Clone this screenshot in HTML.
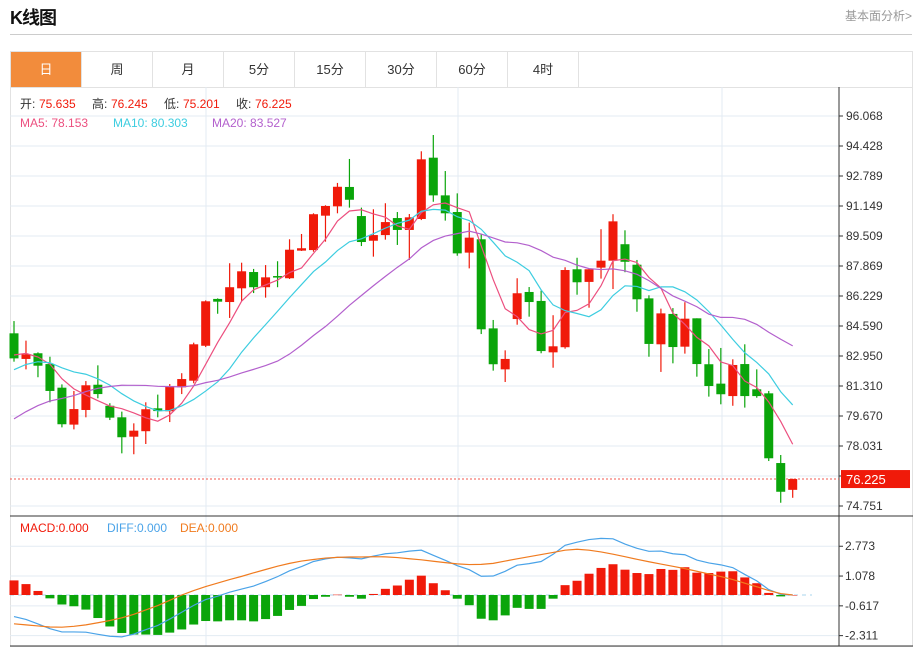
<!DOCTYPE html>
<html><head><meta charset="utf-8">
<style>
body{margin:0;background:#fff;font-family:"Liberation Sans","Noto Sans CJK SC",sans-serif;}
#wrap{position:relative;width:918px;height:647px;overflow:hidden;}
.title{position:absolute;left:10px;top:4px;font-size:18px;font-weight:bold;color:#111;letter-spacing:-1px}
.more{position:absolute;right:6px;top:7px;font-size:12px;color:#999}
.hline{position:absolute;left:10px;top:34px;width:902px;height:1px;background:#ccc}
.tabs{position:absolute;left:10px;top:51px;width:901px;height:35px;border:1px solid #e2e2e2;display:flex}
.tab{width:70px;border-right:1px solid #e2e2e2;font-size:13px;color:#333;text-align:center;line-height:35px}
.tab.on{background:#f28c3c;color:#fff}
svg{position:absolute;left:0;top:0}
</style></head><body>
<div id="wrap">
<div class="title">K线图</div>
<div class="more">基本面分析&gt;</div>
<div class="hline"></div>
<div class="tabs">
<div class="tab on">日</div>
<div class="tab">周</div>
<div class="tab">月</div>
<div class="tab">5分</div>
<div class="tab">15分</div>
<div class="tab">30分</div>
<div class="tab">60分</div>
<div class="tab">4时</div>
</div>
<svg id="chart" width="918" height="647"></svg>
</div>
<script>
const priorCloses=[75.2,75.8,76.0,76.4,76.9,77.0,77.3,77.6,77.2,78.9,80.2,80.9,81.6,82.0,82.3,82.6,83.4,83.0,83.2];
const opens=[84.19,82.79,83.10,82.51,81.22,79.20,80.00,81.38,80.23,79.60,78.54,78.84,80.09,79.93,81.24,81.60,83.51,86.07,85.90,86.65,87.54,86.71,87.32,87.20,88.71,88.74,90.62,91.13,92.19,90.60,89.25,89.56,90.49,89.84,90.44,93.79,91.73,90.82,88.60,89.33,84.46,82.22,84.97,86.45,85.96,83.15,83.43,87.69,87.00,87.78,88.16,89.06,87.94,86.10,83.59,85.25,83.46,85.01,82.50,81.44,80.76,82.51,81.13,80.91,77.10,75.635];
const closes=[82.82,83.04,82.42,81.04,79.22,80.05,81.35,80.87,79.58,78.51,78.87,80.04,79.94,81.31,81.69,83.59,85.94,85.92,86.71,87.58,86.71,87.25,87.25,88.76,88.84,90.70,91.15,92.20,91.49,89.18,89.56,90.27,89.84,90.53,93.70,91.73,90.75,88.56,89.42,84.41,82.50,82.79,86.38,85.90,83.22,83.48,87.65,86.98,87.69,88.16,90.31,88.10,86.05,83.61,85.28,83.44,84.99,82.51,81.31,80.86,82.46,80.76,80.76,77.36,75.53,76.225];
const highs=[84.86,83.79,83.15,82.91,81.40,81.04,81.58,82.44,80.37,79.91,79.27,80.42,80.84,81.42,82.01,83.68,85.99,86.10,88.02,88.05,87.71,87.92,88.13,89.33,89.62,90.75,91.19,92.41,93.72,91.06,90.97,91.30,90.82,90.71,94.14,95.03,93.06,91.84,90.24,89.60,84.92,83.26,87.20,86.72,86.52,85.18,87.80,88.32,87.74,89.88,90.70,89.82,88.20,86.27,85.54,85.57,85.89,85.01,83.33,83.39,82.77,83.59,82.22,81.04,77.54,76.245];
const lows=[82.64,82.22,81.79,80.42,79.05,78.94,79.60,80.64,79.45,77.63,77.58,78.14,79.60,79.34,80.87,81.46,83.44,85.26,85.03,85.97,86.39,86.14,86.71,87.16,88.69,88.65,89.20,90.75,91.06,88.96,88.38,89.31,89.02,88.20,90.38,91.38,90.35,88.43,87.74,84.15,82.15,81.53,84.66,85.10,83.10,82.31,83.35,86.30,85.59,87.18,86.61,87.53,85.37,82.91,82.08,82.55,83.08,81.82,80.73,80.31,80.23,80.13,80.67,77.21,74.93,75.201];
const macdVals=[0.83,0.62,0.23,-0.19,-0.54,-0.64,-0.83,-1.31,-1.79,-2.16,-2.25,-2.25,-2.27,-2.14,-1.96,-1.68,-1.48,-1.50,-1.44,-1.44,-1.50,-1.37,-1.19,-0.85,-0.62,-0.23,-0.10,0.02,-0.10,-0.21,0.06,0.35,0.54,0.87,1.10,0.67,0.27,-0.21,-0.58,-1.35,-1.44,-1.16,-0.73,-0.79,-0.79,-0.21,0.56,0.81,1.21,1.54,1.75,1.44,1.25,1.19,1.48,1.43,1.58,1.27,1.25,1.33,1.35,1.00,0.67,0.12,-0.08,0];
const deaVals=[-1.64,-1.70,-1.76,-1.82,-1.83,-1.78,-1.70,-1.58,-1.45,-1.30,-1.10,-0.85,-0.60,-0.30,0.00,0.25,0.48,0.68,0.88,1.06,1.26,1.45,1.64,1.80,1.93,2.02,2.10,2.14,2.16,2.16,2.18,2.17,2.13,2.06,2.00,1.92,1.84,1.77,1.73,1.74,1.80,1.93,2.06,2.18,2.30,2.42,2.55,2.60,2.55,2.45,2.32,2.18,2.03,1.89,1.76,1.63,1.50,1.35,1.20,1.05,0.88,0.67,0.47,0.25,0.08,0];
const priceTicks=["96.068","94.428","92.789","91.149","89.509","87.869","86.229","84.590","82.950","81.310","79.670","78.031","76.391","74.751"];
const macdTicks=["2.773","1.078","-0.617","-2.311"];

const svg=document.getElementById('chart');const NS='http://www.w3.org/2000/svg';
function mk(t,a,name,parent){const e=document.createElementNS(NS,t);for(const k in a)e.setAttribute(k,a[k]);


(parent||svg).appendChild(e);return e;}
const L=10,R=839,PT=87,PB=516,MB=646;
const pMax=96.068,pStep=1.6397;
const y=p=>116+(pMax-p)/pStep*30;
const ym=v=>595-v/1.695*29.8;
const x=i=>14+i*11.98;
// frame
mk('rect',{x:L+0.5,y:PT+0.5,width:902,height:MB-PT,fill:'none',stroke:'#e2e2e2'},'chart-frame');
// grids
priceTicks.forEach((t,k)=>{const yy=116+k*30;mk('line',{x1:L,x2:R,y1:yy,y2:yy,stroke:'#e3ebf3'},'price-gridline');
mk('line',{x1:R,x2:R+4,y1:yy,y2:yy,stroke:'#333'},'price-tick');
if(k!==12){const tx=mk('text',{x:R+7,y:yy+4,'font-size':12,fill:'#333'},'price-tick-label');tx.textContent=t;}});
macdTicks.forEach(t=>{const yy=ym(parseFloat(t));mk('line',{x1:L,x2:R,y1:yy,y2:yy,stroke:'#e3ebf3'},'macd-gridline');
mk('line',{x1:R,x2:R+4,y1:yy,y2:yy,stroke:'#333'},'macd-tick');
const tx=mk('text',{x:R+6,y:yy+4,'font-size':12,fill:'#333'},'macd-tick-label');tx.textContent=t;});
[206,458,722].forEach(xx=>{mk('line',{x1:xx,x2:xx,y1:PT,y2:MB,stroke:'#e3ebf3'},'vertical-gridline');});
mk('line',{x1:R,x2:R,y1:PT,y2:MB,stroke:'#333'},'y-axis-line');
mk('line',{x1:L,x2:913,y1:PB,y2:PB,stroke:'#333'},'panel-divider');
mk('line',{x1:L,x2:913,y1:MB,y2:MB,stroke:'#333'},'bottom-axis-line');
// last price line
const lastC=closes[closes.length-1];
mk('line',{x1:L,x2:R,y1:y(lastC),y2:y(lastC),stroke:'#f05a50','stroke-dasharray':'2,2'},'last-price-line');
mk('rect',{x:R+2,y:y(lastC)-9,width:69,height:18,fill:'#f01a0a'},'last-price-label-box');
const lt=mk('text',{x:R+7,y:y(lastC)+5,'font-size':13,fill:'#fff'},'last-price-label');lt.textContent=lastC.toFixed(3);
// candles
const up='#f01a0a',dn='#0aa50a';
opens.forEach((o,i)=>{const c=closes[i],col=c>=o?up:dn,cx=x(i);
mk('line',{x1:cx,x2:cx,y1:y(highs[i]),y2:y(lows[i]),stroke:col,'stroke-width':1.2},'candle-wick');
const t=y(Math.max(o,c)),b=y(Math.min(o,c));
mk('rect',{x:cx-4.5,y:t,width:9,height:Math.max(b-t,1.5),fill:col},'candle-body');});
// MAs
const all=priorCloses.concat(closes),off=priorCloses.length;
function ma(n){return closes.map((_,i)=>{let s=0;for(let k=0;k<n;k++)s+=all[off+i-k];return s/n;});}
[[5,'#ec4f7f','ma5-line'],[10,'#3dcde0','ma10-line'],[20,'#b360cd','ma20-line']].forEach(([n,col,name])=>{
const m=ma(n);mk('polyline',{points:m.map((v,i)=>x(i)+','+y(v)).join(' '),fill:'none',stroke:col,'stroke-width':1.2},name);});
// MACD
mk('line',{x1:L,x2:812,y1:ym(0),y2:ym(0),stroke:'#a8d4ec','stroke-dasharray':'4,4'},'macd-zero-line');
macdVals.forEach((v,i)=>{const cx=x(i);const t=ym(Math.max(v,0)),b=ym(Math.min(v,0));
mk('rect',{x:cx-4.5,y:t,width:9,height:Math.max(b-t,0.5),fill:v>=0?up:dn},'macd-bar');});
const diffVals=deaVals.map((d,i)=>d+macdVals[i]/2);
mk('polyline',{points:diffVals.map((v,i)=>x(i)+','+ym(v)).join(' '),fill:'none',stroke:'#4aa3e8','stroke-width':1.2},'diff-line');
mk('polyline',{points:deaVals.map((v,i)=>x(i)+','+ym(v)).join(' '),fill:'none',stroke:'#f07b1f','stroke-width':1.2},'dea-line');
// legends
function txt(xx,yy,s,col,name){const t=mk('text',{x:xx,y:yy,'font-size':12,fill:col},name);t.textContent=s;}
txt(20,108,'开:','#333','open-label');txt(39,108,'75.635','#f01a0a','open-value');
txt(92,108,'高:','#333','high-label');txt(111,108,'76.245','#f01a0a','high-value');
txt(164,108,'低:','#333','low-label');txt(183,108,'75.201','#f01a0a','low-value');
txt(236,108,'收:','#333','close-label');txt(255,108,'76.225','#f01a0a','close-value');
txt(20,127,'MA5: 78.153','#ec4f7f','ma5-legend');
txt(113,127,'MA10: 80.303','#3dcde0','ma10-legend');
txt(212,127,'MA20: 83.527','#b360cd','ma20-legend');
txt(20,532,'MACD:0.000','#f01a0a','macd-legend');
txt(107,532,'DIFF:0.000','#4aa3e8','diff-legend');
txt(180,532,'DEA:0.000','#f07b1f','dea-legend');
</script>
</body></html>
